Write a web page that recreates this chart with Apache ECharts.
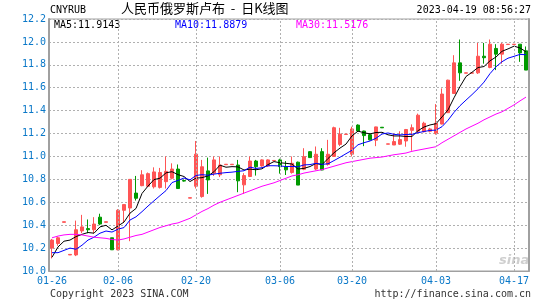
<!DOCTYPE html>
<html>
<head>
<meta charset="utf-8">
<script src="https://cdn.jsdelivr.net/npm/echarts@6/dist/echarts.min.js"></script>
<style>
html, body { margin: 0; padding: 0; background: #fff; }
#main { width: 545px; height: 300px; }
</style>
</head>
<body>
<div id="main"></div>
<script>
// 交易日（日期标签）
const dates = [
    '01-26', '01-27', '01-28', '01-29', '01-30', '01-31', '02-01', '02-02', '02-03', '02-04',
    '02-05', '02-06', '02-07', '02-08', '02-09', '02-10', '02-11', '02-13', '02-14', '02-15',
    '02-16', '02-17', '02-18', '02-19', '02-20', '02-21', '02-22', '02-23', '02-24', '02-25',
    '02-26', '02-27', '02-28', '03-01', '03-02', '03-03', '03-04', '03-05', '03-06', '03-07',
    '03-08', '03-09', '03-10', '03-11', '03-13', '03-14', '03-15', '03-16', '03-17', '03-18',
    '03-20', '03-21', '03-22', '03-23', '03-24', '03-25', '03-26', '03-27', '03-28', '03-29',
    '03-30', '03-31', '04-01', '04-02', '04-03', '04-04', '04-05', '04-06', '04-07', '04-08',
    '04-10', '04-11', '04-12', '04-13', '04-14', '04-15', '04-16', '04-17', '04-18', '04-19'
];
const tickDates = ['01-26', '02-06', '02-20', '03-06', '03-20', '04-03', '04-17'];
const yTicks = [10.0, 10.2, 10.4, 10.6, 10.8, 11.0, 11.2, 11.4, 11.6, 11.8, 12.0, 12.2];

const opens = [
    10.20, 10.24, 10.425, 10.14, 10.14, 10.35, 10.37, 10.36, 10.47, 10.425,
    10.29, 10.185, 10.53, 10.55, 10.68, 10.745, 10.74, 10.735, 10.73, 10.78,
    10.81, 10.89, 10.79, 10.636, 10.74, 10.65, 10.874, 10.854, 10.84, 10.928,
    10.928, 10.925, 10.752, 10.825, 10.96, 10.917, 10.917, 10.962, 10.97, 10.91,
    10.86, 10.95, 10.888, 11.042, 10.89, 11.042, 10.93, 11.0, 11.105, 11.192,
    11.02, 11.274, 11.222, 11.19, 11.142, 11.255, 11.107, 11.10, 11.107, 11.135,
    11.228, 11.22, 11.216, 11.22, 11.20, 11.283, 11.382, 11.55, 11.817, 11.727,
    11.727, 11.73, 11.875, 11.777, 11.943, 11.893, 11.977, 11.977, 11.98, 11.922
];
const closes = [
    10.27, 10.29, 10.43, 10.145, 10.36, 10.385, 10.36, 10.41, 10.41, 10.43,
    10.185, 10.53, 10.58, 10.80, 10.635, 10.84, 10.85, 10.865, 10.86, 10.87,
    10.89, 10.72, 10.785, 10.64, 11.02, 10.91, 10.795, 10.97, 10.925, 10.932,
    10.932, 10.787, 10.833, 10.96, 10.91, 10.97, 10.97, 10.965, 10.911, 10.883,
    10.94, 10.75, 10.998, 10.99, 11.019, 10.882, 11.019, 11.251, 11.195, 11.195,
    11.24, 11.222, 11.182, 11.145, 11.258, 11.25, 11.11, 11.13, 11.147, 11.235,
    11.251, 11.36, 11.29, 11.24, 11.29, 11.545, 11.666, 11.817, 11.73, 11.73,
    11.73, 11.875, 11.862, 11.98, 11.893, 11.98, 11.98, 11.98, 11.904, 11.754
];
const lows = [
    10.11, 10.22, 10.425, 10.14, 10.13, 10.33, 10.33, 10.33, 10.40, 10.425,
    10.185, 10.18, 10.42, 10.26, 10.615, 10.74, 10.735, 10.72, 10.72, 10.72,
    10.80, 10.72, 10.78, 10.636, 10.72, 10.64, 10.673, 10.83, 10.82, 10.928,
    10.928, 10.688, 10.673, 10.82, 10.833, 10.91, 10.91, 10.962, 10.85, 10.838,
    10.85, 10.75, 10.88, 10.99, 10.88, 10.88, 10.92, 11.0, 11.09, 11.192,
    11.0, 11.22, 11.09, 11.14, 11.09, 11.25, 11.107, 11.10, 11.10, 11.085,
    11.05, 11.2, 11.21, 11.21, 11.19, 11.28, 11.38, 11.545, 11.66, 11.727,
    11.727, 11.72, 11.81, 11.77, 11.754, 11.81, 11.977, 11.977, 11.826, 11.754
];
const highs = [
    10.28, 10.30, 10.43, 10.145, 10.44, 10.49, 10.45, 10.47, 10.50, 10.43,
    10.29, 10.54, 10.58, 10.80, 10.83, 10.88, 10.86, 10.905, 10.90, 11.0,
    10.94, 10.93, 10.80, 10.64, 11.135, 10.97, 10.99, 11.0, 11.0, 10.932,
    10.932, 10.97, 10.854, 11.0, 10.97, 10.975, 10.975, 10.965, 10.98, 10.96,
    11.0, 10.955, 11.072, 11.045, 11.087, 11.072, 11.145, 11.26, 11.25, 11.195,
    11.26, 11.28, 11.225, 11.20, 11.26, 11.255, 11.11, 11.20, 11.22, 11.24,
    11.28, 11.374, 11.303, 11.25, 11.457, 11.594, 11.67, 11.884, 12.021, 11.73,
    11.73, 11.991, 11.991, 12.021, 11.98, 11.991, 11.98, 11.98, 11.98, 11.96
];

const ma5 = [
    10.12, 10.21, 10.26, 10.27, 10.30, 10.32, 10.336, 10.33, 10.385, 10.399,
    10.359, 10.393, 10.427, 10.505, 10.546, 10.677, 10.741, 10.798, 10.81, 10.857,
    10.867, 10.841, 10.825, 10.781, 10.811, 10.815, 10.83, 10.867, 10.924, 10.906,
    10.911, 10.909, 10.882, 10.889, 10.884, 10.892, 10.929, 10.955, 10.945, 10.94,
    10.934, 10.89, 10.896, 10.912, 10.939, 10.928, 10.982, 11.032, 11.073, 11.108,
    11.18, 11.221, 11.207, 11.197, 11.209, 11.211, 11.189, 11.179, 11.179, 11.174,
    11.175, 11.225, 11.257, 11.275, 11.286, 11.345, 11.406, 11.512, 11.61, 11.698,
    11.735, 11.776, 11.785, 11.835, 11.868, 11.918, 11.939, 11.963, 11.947, 11.914
];
const ma10 = [
    10.16, 10.16, 10.18, 10.20, 10.19, 10.225, 10.27, 10.295, 10.33, 10.349,
    10.34, 10.365, 10.379, 10.445, 10.473, 10.518, 10.567, 10.613, 10.658, 10.702,
    10.772, 10.791, 10.812, 10.796, 10.834, 10.841, 10.836, 10.846, 10.853, 10.859,
    10.863, 10.87, 10.875, 10.907, 10.895, 10.902, 10.919, 10.919, 10.917, 10.912,
    10.913, 10.91, 10.926, 10.929, 10.94, 10.931, 10.936, 10.964, 10.993, 11.024,
    11.054, 11.102, 11.12, 11.135, 11.159, 11.196, 11.205, 11.193, 11.188, 11.192,
    11.193, 11.207, 11.218, 11.227, 11.23, 11.26, 11.316, 11.385, 11.443, 11.492,
    11.54, 11.591, 11.649, 11.723, 11.783, 11.827, 11.858, 11.874, 11.891, 11.888
];
const ma30 = [
    10.29, 10.305, 10.315, 10.32, 10.32, 10.315, 10.305, 10.295, 10.29, 10.285,
    10.275, 10.27, 10.28, 10.295, 10.31, 10.32, 10.34, 10.36, 10.38, 10.395,
    10.41, 10.42, 10.44, 10.46, 10.49, 10.52, 10.545, 10.575, 10.60, 10.62,
    10.64, 10.66, 10.68, 10.70, 10.72, 10.74, 10.755, 10.77, 10.79, 10.81,
    10.83, 10.84, 10.855, 10.865, 10.875, 10.885, 10.90, 10.915, 10.93, 10.945,
    10.955, 10.965, 10.975, 10.985, 10.99, 10.995, 11.005, 11.015, 11.022, 11.03,
    11.045, 11.055, 11.065, 11.075, 11.085, 11.12, 11.15, 11.18, 11.21, 11.24,
    11.265, 11.29, 11.32, 11.345, 11.37, 11.39, 11.42, 11.45, 11.485, 11.518
];

const MONO = '"DejaVu Sans Mono", "Liberation Mono", monospace';
const BLUE_LABEL = '#0a78c8';
const UP = '#ff5555';
const DOWN = '#009900';

const chart = echarts.init(document.getElementById('main'), null, { renderer: 'canvas' });

const kData = dates.map((d, i) => [opens[i], closes[i], lows[i], highs[i]]);

const option = {
    backgroundColor: '#ffffff',
    animation: false,
    grid: {
        left: 49,
        top: 19,
        width: 480,
        height: 252,
        show: true,
        borderColor: '#a0a0a0',
        borderWidth: 1
    },
    xAxis: {
        type: 'category',
        data: dates,
        boundaryGap: true,
        axisLine: { show: true, lineStyle: { color: '#a0a0a0', width: 1 } },
        axisTick: { show: false },
        splitLine: { show: false },
        axisLabel: {
            interval: (idx, val) => tickDates.includes(val),
            color: BLUE_LABEL,
            fontFamily: MONO,
            fontSize: 10,
            margin: 5
        }
    },
    yAxis: [{
        type: 'value',
        min: yTicks[0],
        max: yTicks[yTicks.length - 1],
        interval: 0.2,
        axisLine: { show: true, lineStyle: { color: '#a0a0a0', width: 2 } },
        axisTick: { show: false },
        axisLabel: {
            color: BLUE_LABEL,
            fontFamily: MONO,
            fontSize: 10,
            margin: 3,
            formatter: v => v.toFixed(1)
        },
        splitLine: { lineStyle: { color: '#b0b0b0', type: [2, 2], width: 1 } }
    }, {
        type: 'value',
        position: 'right',
        min: yTicks[0],
        max: yTicks[yTicks.length - 1],
        interval: 0.2,
        axisLine: { show: true, lineStyle: { color: '#a0a0a0', width: 2 } },
        axisTick: { show: false },
        axisLabel: { show: false },
        splitLine: { show: false }
    }],
    graphic: [
        { type: 'text', left: 50, top: 5, style: { text: 'CNYRUB', fill: '#000', font: '10px ' + MONO } },
        { type: 'text', left: 121, top: 2, style: { text: '人民币俄罗斯卢布  -  日K线图', fill: '#000', font: '13px "Noto Sans CJK SC"' } },
        { type: 'text', right: 14, top: 5, style: { text: '2023-04-19 08:56:27', fill: '#000', font: '10px ' + MONO } },
        { type: 'text', left: 54, top: 20, style: { text: 'MA5:11.9143', fill: '#000000', font: '10px ' + MONO } },
        { type: 'text', left: 175, top: 20, style: { text: 'MA10:11.8879', fill: '#0000ff', font: '10px ' + MONO } },
        { type: 'text', left: 296, top: 20, style: { text: 'MA30:11.5176', fill: '#ff00ff', font: '10px ' + MONO } },
        { type: 'text', left: 50, top: 289, style: { text: 'Copyright 2023 SINA.COM', fill: '#333', font: '10px ' + MONO } },
        { type: 'text', right: 14, top: 289, style: { text: 'http://finance.sina.com.cn', fill: '#333', font: '10px ' + MONO } },
        { type: 'text', left: 499, top: 254, style: { text: 'sina', fill: '#cfcfcf', font: 'italic bold 13px "DejaVu Sans"' } }
    ],
    series: [
        {
            name: 'K',
            type: 'candlestick',
            data: kData,
            barWidth: 4,
            itemStyle: {
                color: UP,
                color0: DOWN,
                borderColor: UP,
                borderColor0: DOWN,
                borderWidth: 1
            },
            markLine: {
                silent: true,
                symbol: 'none',
                label: { show: false },
                lineStyle: { color: '#b0b0b0', type: [2, 2], width: 1 },
                data: tickDates.slice(1).map(d => ({ xAxis: d }))
            }
        },
        {
            name: 'MA5',
            type: 'line',
            data: ma5,
            showSymbol: false,
            lineStyle: { color: '#000000', width: 1 },
            z: 3
        },
        {
            name: 'MA10',
            type: 'line',
            data: ma10,
            showSymbol: false,
            lineStyle: { color: '#0000ff', width: 1 },
            z: 3
        },
        {
            name: 'MA30',
            type: 'line',
            data: ma30,
            showSymbol: false,
            lineStyle: { color: '#ff00ff', width: 1 },
            z: 3
        }
    ]
};

try {
    chart.setOption(option);
} catch (error) {
    console.error('Error setting chart option:', error);
}
</script>
</body>
</html>
